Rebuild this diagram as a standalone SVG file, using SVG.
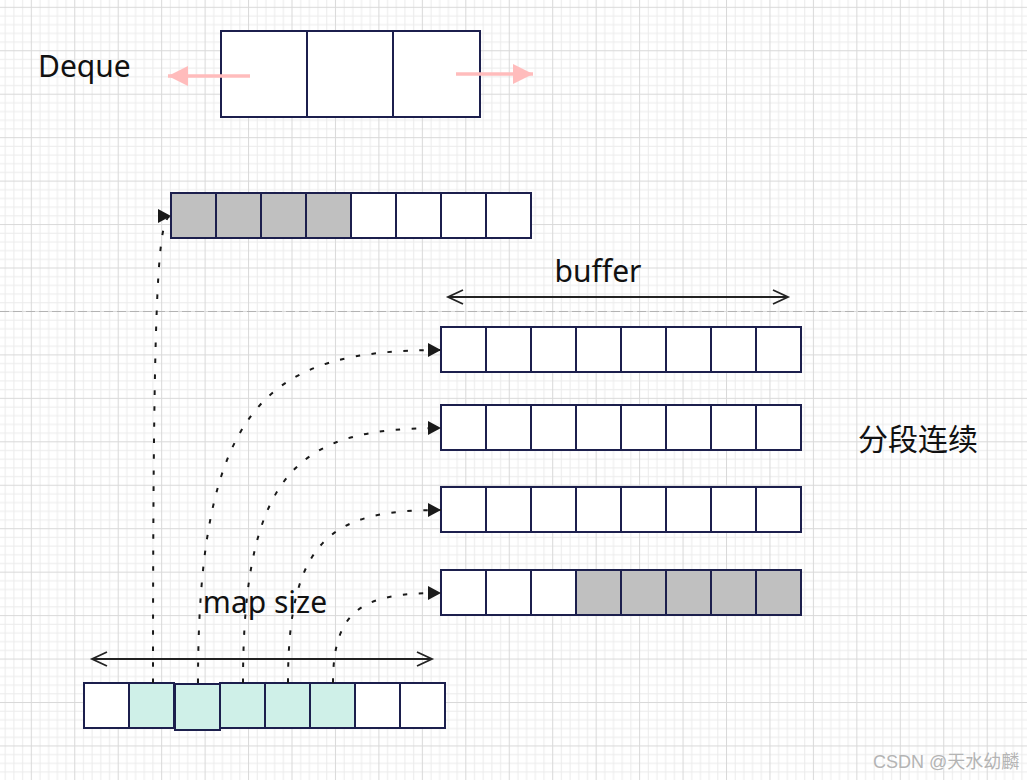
<svg xmlns="http://www.w3.org/2000/svg" width="1027" height="780" viewBox="0 0 1027 780">
  <defs>
    <pattern id="grid" patternUnits="userSpaceOnUse" x="30.8" y="6.8" width="43.45" height="43.45">
      <rect x="0" y="0" width="43.45" height="43.45" fill="#ffffff"/>
      <g fill="#ececec">
        <rect x="8.69" y="0" width="1" height="43.45"/>
        <rect x="17.38" y="0" width="1" height="43.45"/>
        <rect x="26.07" y="0" width="1" height="43.45"/>
        <rect x="34.76" y="0" width="1" height="43.45"/>
        <rect x="0" y="8.69" width="43.45" height="1"/>
        <rect x="0" y="17.38" width="43.45" height="1"/>
        <rect x="0" y="26.07" width="43.45" height="1"/>
        <rect x="0" y="34.76" width="43.45" height="1"/>
      </g>
      <g fill="#d9d9d9">
        <rect x="0" y="0" width="1" height="43.45"/>
        <rect x="0" y="0" width="43.45" height="1"/>
      </g>
    </pattern>
    <marker id="tri" markerUnits="userSpaceOnUse" markerWidth="16" markerHeight="16" refX="13" refY="7" orient="auto">
      <path d="M0,0 L13,7 L0,14 Z" fill="#1a1a1a"/>
    </marker>
    <marker id="open" markerUnits="userSpaceOnUse" markerWidth="20" markerHeight="20" refX="16" refY="8" orient="auto-start-reverse">
      <path d="M1,1 L16,8 L1,15" fill="none" stroke="#222" stroke-width="1.8"/>
    </marker>
    <marker id="pink" markerUnits="userSpaceOnUse" markerWidth="24" markerHeight="24" refX="20" refY="10" orient="auto">
      <path d="M0,0 L20,10 L0,20 Z" fill="#ffbcbc"/>
    </marker>
  </defs>
  <style>
    .cell { stroke: #1c1f4d; stroke-width: 2; fill: #ffffff; }
    .gray { fill: #c0c0c0; }
    .teal { fill: #cff0e8; }
    .lbl { font-family: "Noto Sans", "Noto Sans CJK SC", sans-serif; font-size: 30px; fill: #111111; }
    .dot { fill: none; stroke: #1a1a1a; stroke-width: 2; stroke-dasharray: 4.5 11.5; marker-end: url(#tri); }
    .dim { fill: none; stroke: #222; stroke-width: 1.8; marker-start: url(#open); marker-end: url(#open); }
    .parrow { fill: none; stroke: #ffbcbc; stroke-width: 3.5; marker-end: url(#pink); }
  </style>

  <rect x="0" y="0" width="1027" height="780" fill="url(#grid)"/>
  <line x1="0" y1="311.5" x2="1027" y2="311.5" stroke="#b3b3b3" stroke-width="1" stroke-dasharray="9 4"/>

  <g id="deque">
    <rect class="cell" x="221" y="31" width="86" height="86"/>
    <rect class="cell" x="307" y="31" width="86" height="86"/>
    <rect class="cell" x="393" y="31" width="87" height="86"/>
  </g>
  <g id="deque-label">
    <text class="lbl" x="38" y="77">Deque</text>
  </g>
  <g id="push-arrows">
    <line class="parrow" x1="250" y1="76" x2="168" y2="76"/>
    <line class="parrow" x1="456" y1="74" x2="533" y2="74"/>
  </g>

  <g id="buffer-top">
    <rect class="cell gray" x="171" y="193" width="45" height="45"/>
    <rect class="cell gray" x="216" y="193" width="45" height="45"/>
    <rect class="cell gray" x="261" y="193" width="45" height="45"/>
    <rect class="cell gray" x="306" y="193" width="45" height="45"/>
    <rect class="cell" x="351" y="193" width="45" height="45"/>
    <rect class="cell" x="396" y="193" width="45" height="45"/>
    <rect class="cell" x="441" y="193" width="45" height="45"/>
    <rect class="cell" x="486" y="193" width="45" height="45"/>
  </g>

  <g id="buffer-1">
    <rect class="cell" x="441" y="327" width="45" height="45"/>
    <rect class="cell" x="486" y="327" width="45" height="45"/>
    <rect class="cell" x="531" y="327" width="45" height="45"/>
    <rect class="cell" x="576" y="327" width="45" height="45"/>
    <rect class="cell" x="621" y="327" width="45" height="45"/>
    <rect class="cell" x="666" y="327" width="45" height="45"/>
    <rect class="cell" x="711" y="327" width="45" height="45"/>
    <rect class="cell" x="756" y="327" width="45" height="45"/>
  </g>
  <g id="buffer-2">
    <rect class="cell" x="441" y="405" width="45" height="45"/>
    <rect class="cell" x="486" y="405" width="45" height="45"/>
    <rect class="cell" x="531" y="405" width="45" height="45"/>
    <rect class="cell" x="576" y="405" width="45" height="45"/>
    <rect class="cell" x="621" y="405" width="45" height="45"/>
    <rect class="cell" x="666" y="405" width="45" height="45"/>
    <rect class="cell" x="711" y="405" width="45" height="45"/>
    <rect class="cell" x="756" y="405" width="45" height="45"/>
  </g>
  <g id="buffer-3">
    <rect class="cell" x="441" y="487" width="45" height="45"/>
    <rect class="cell" x="486" y="487" width="45" height="45"/>
    <rect class="cell" x="531" y="487" width="45" height="45"/>
    <rect class="cell" x="576" y="487" width="45" height="45"/>
    <rect class="cell" x="621" y="487" width="45" height="45"/>
    <rect class="cell" x="666" y="487" width="45" height="45"/>
    <rect class="cell" x="711" y="487" width="45" height="45"/>
    <rect class="cell" x="756" y="487" width="45" height="45"/>
  </g>
  <g id="buffer-4">
    <rect class="cell" x="441" y="570" width="45" height="45"/>
    <rect class="cell" x="486" y="570" width="45" height="45"/>
    <rect class="cell" x="531" y="570" width="45" height="45"/>
    <rect class="cell gray" x="576" y="570" width="45" height="45"/>
    <rect class="cell gray" x="621" y="570" width="45" height="45"/>
    <rect class="cell gray" x="666" y="570" width="45" height="45"/>
    <rect class="cell gray" x="711" y="570" width="45" height="45"/>
    <rect class="cell gray" x="756" y="570" width="45" height="45"/>
  </g>

  <g id="map">
    <rect class="cell" x="84" y="683" width="45" height="45"/>
    <rect class="cell teal" x="129" y="683" width="45" height="45"/>
    <rect class="cell teal" x="220" y="683" width="45" height="45"/>
    <rect class="cell teal" x="265" y="683" width="45" height="45"/>
    <rect class="cell teal" x="310" y="683" width="45" height="45"/>
    <rect class="cell" x="355" y="683" width="45" height="45"/>
    <rect class="cell" x="400" y="683" width="45" height="45"/>
    <rect class="cell teal" x="175" y="684" width="45" height="46"/>
  </g>

  <g id="labels">
    <text class="lbl" x="598" y="282" text-anchor="middle">buffer</text>
    <text class="lbl" x="265" y="613" text-anchor="middle">map size</text>
    <text class="lbl" x="858" y="450">分段连续</text>
  </g>

  <g id="connectors">
    <line class="dim" x1="448" y1="297" x2="788" y2="297"/>
    <line class="dim" x1="92" y1="659" x2="432" y2="659"/>
    <path class="dot" d="M153,683 C153,286 158,216 171,216"/>
    <path class="dot" d="M198,683 C198,400 270,350 441,350"/>
    <path class="dot" d="M243,683 C243,466 302,428 441,428"/>
    <path class="dot" d="M288,683 C288,536 334,510 441,510"/>
    <path class="dot" d="M333,683 C333,607 365,593 441,593"/>
  </g>

  <text x="873" y="768" font-family="'Liberation Sans', 'Noto Sans CJK SC', sans-serif" font-size="18" fill="#b4b4b4">CSDN @天水幼麟</text>
</svg>
